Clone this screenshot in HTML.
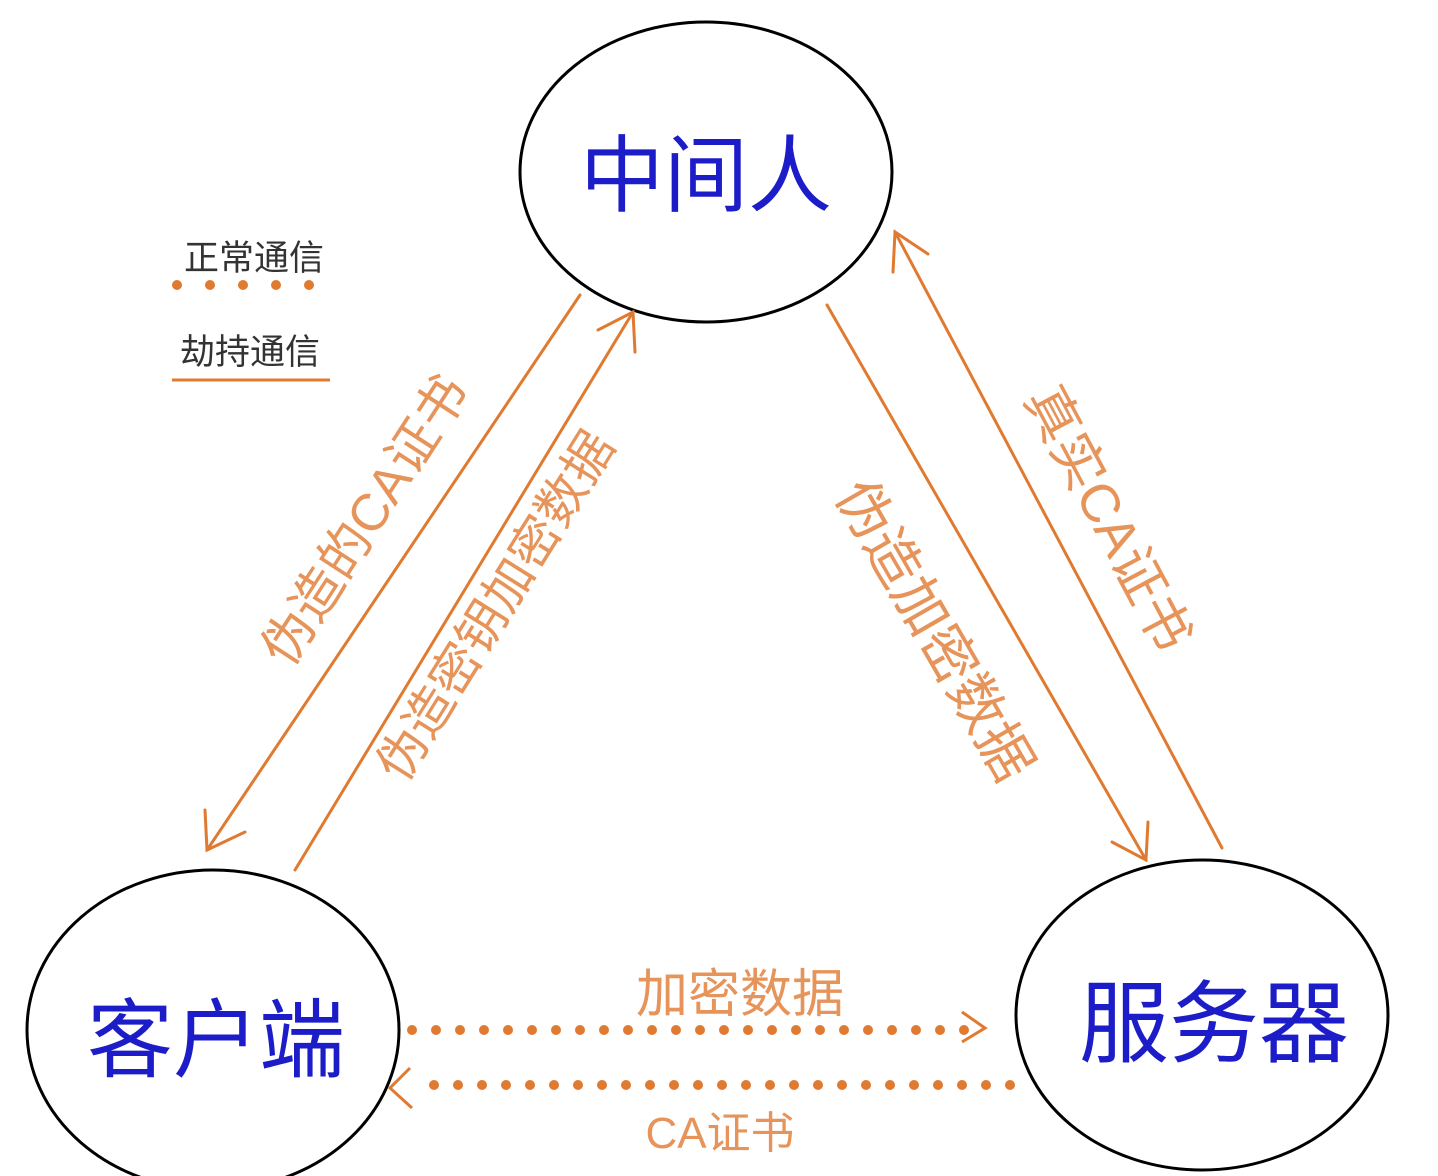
<!DOCTYPE html>
<html><head><meta charset="utf-8"><style>
html,body{margin:0;padding:0;background:#fff;}
svg{display:block;}
text{font-family:"Liberation Sans","Noto Sans CJK SC",sans-serif;}
</style></head><body>
<svg width="1438" height="1176" viewBox="0 0 1438 1176" xmlns="http://www.w3.org/2000/svg">
<g fill="none" stroke="#000" stroke-width="3">
<ellipse cx="706" cy="172" rx="186" ry="150"/>
<ellipse cx="213" cy="1030" rx="186" ry="160"/>
<ellipse cx="1202" cy="1015" rx="186" ry="155"/>
</g>
<g fill="#1c1cc8" text-anchor="middle">
<text x="706" y="205" font-size="84">中间人</text>
<text x="216" y="1070" font-size="86">客户端</text>
<text x="1214" y="1055" font-size="90">服务器</text>
</g>
<g font-size="35" fill="#333">
<text x="184" y="270">正常通信</text>
<text x="180" y="364">劫持通信</text>
</g>
<g fill="#e07a30">
<circle cx="177" cy="285" r="5"/><circle cx="210" cy="285" r="5"/><circle cx="243" cy="285" r="5"/><circle cx="276" cy="285" r="5"/><circle cx="309" cy="285" r="5"/>
</g>
<line x1="172" y1="380" x2="330" y2="380" stroke="#e07a30" stroke-width="3"/>
<g stroke="#e07a30" stroke-width="3" fill="none" stroke-linecap="round">
<line x1="580" y1="295" x2="207" y2="850"/>
<polyline points="205,810 207,850 245,832"/>
<line x1="295" y1="870" x2="633" y2="312"/>
<polyline points="598,330 633,312 635,352"/>
<line x1="827" y1="305" x2="1146" y2="860"/>
<polyline points="1148,822 1146,860 1112,842"/>
<line x1="1222" y1="848" x2="895" y2="232"/>
<polyline points="893,272 895,232 928,254"/>
</g>
<g stroke="#e07a30" stroke-width="10" stroke-linecap="round" stroke-dasharray="0 24" fill="none">
<line x1="412" y1="1030" x2="970" y2="1030"/>
<line x1="1010" y1="1085" x2="420" y2="1085"/>
</g>
<g stroke="#e07a30" stroke-width="3" fill="none">
<polyline points="962,1012 985,1028 962,1042"/>
<polyline points="410,1068 390,1088 412,1108"/>
</g>
<g fill="#e6945a" text-anchor="middle">
<text transform="translate(380,530) rotate(-57)" font-size="52">伪造的CA证书</text>
<text transform="translate(510,615) rotate(-58)" font-size="50">伪造密钥加密数据</text>
<text transform="translate(918,640) rotate(60)" font-size="56">伪造加密数据</text>
<text transform="translate(1092,527) rotate(62)" font-size="54">真实CA证书</text>
<text x="740" y="1012" font-size="52">加密数据</text>
<text x="720" y="1148" font-size="44">CA证书</text>
</g>
</svg>
</body></html>
